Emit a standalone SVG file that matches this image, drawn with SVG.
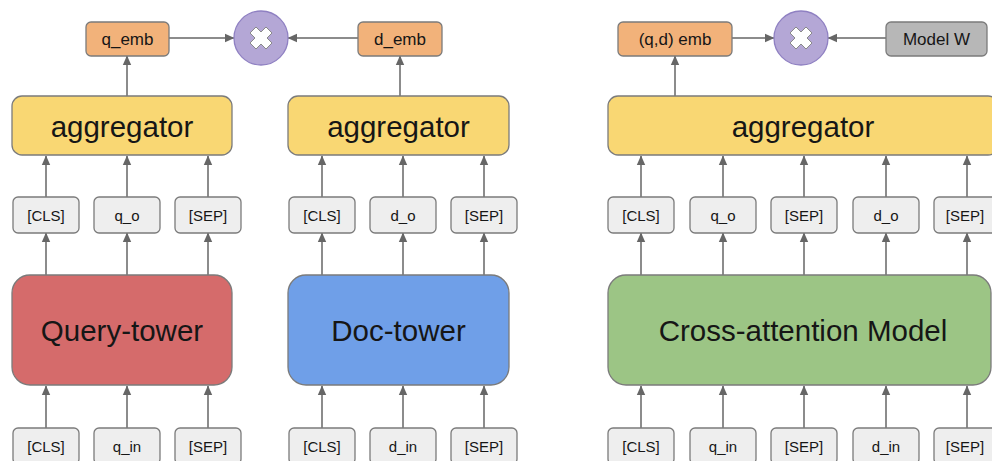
<svg xmlns="http://www.w3.org/2000/svg" width="992" height="461" viewBox="0 0 992 461">
  <defs>
    <marker id="arrow" markerUnits="userSpaceOnUse" markerWidth="10" markerHeight="10" viewBox="0 0 10 10" refX="9" refY="5" orient="auto">
      <path d="M0,0.8 L9.5,5 L0,9.2 Z" fill="#666666"/>
    </marker>
    <g id="times">
      <path d="M-5,-11 L0,-6 L5,-11 L11,-5 L6,0 L11,5 L5,11 L0,6 L-5,11 L-11,5 L-6,0 L-11,-5 Z" fill="#ffffff" stroke="#8a8a8a" stroke-width="1" stroke-linejoin="round"/>
    </g>
  </defs>
  <style>
    .box { stroke: #7b7b7b; stroke-width: 1.3; }
    .tok { fill: #eeeeee; }
    .emb { fill: #f2b27a; }
    .agg { fill: #f9d773; }
    .op { fill: #b4a7d6; stroke: #8f80c2; stroke-width: 1.3; }
    .wt { fill: #b7b7b7; }
    .q { fill: #d56b6b; }
    .d { fill: #6f9fe8; }
    .x { fill: #9cc585; }
    text { font-family: "Liberation Sans", Arial, sans-serif; fill: #161616; text-anchor: middle; dominant-baseline: central; }
    .t15 { font-size: 15px; }
    .t17 { font-size: 17px; }
    .big { font-size: 29.5px; }
    .link { stroke: #666666; stroke-width: 1.5; fill: none; marker-end: url(#arrow); }
  </style>

  <rect width="992" height="461" fill="#ffffff"/>

  <!-- connectors -->
  <g id="connectors">
    <!-- query side -->
    <line class="link" x1="169" y1="38" x2="234" y2="38"/>
    <line class="link" x1="127" y1="96" x2="127" y2="56"/>
    <line class="link" x1="46" y1="197" x2="46" y2="156"/>
    <line class="link" x1="127" y1="197" x2="127" y2="156"/>
    <line class="link" x1="208" y1="197" x2="208" y2="156"/>
    <line class="link" x1="46" y1="275" x2="46" y2="233"/>
    <line class="link" x1="127" y1="275" x2="127" y2="233"/>
    <line class="link" x1="208" y1="275" x2="208" y2="233"/>
    <line class="link" x1="46" y1="428" x2="46" y2="386"/>
    <line class="link" x1="127" y1="428" x2="127" y2="386"/>
    <line class="link" x1="208" y1="428" x2="208" y2="386"/>
    <!-- doc side -->
    <line class="link" x1="358" y1="38" x2="288" y2="38"/>
    <line class="link" x1="400" y1="96" x2="400" y2="56"/>
    <line class="link" x1="322" y1="197" x2="322" y2="156"/>
    <line class="link" x1="403" y1="197" x2="403" y2="156"/>
    <line class="link" x1="484" y1="197" x2="484" y2="156"/>
    <line class="link" x1="322" y1="275" x2="322" y2="233"/>
    <line class="link" x1="403" y1="275" x2="403" y2="233"/>
    <line class="link" x1="484" y1="275" x2="484" y2="233"/>
    <line class="link" x1="322" y1="428" x2="322" y2="386"/>
    <line class="link" x1="403" y1="428" x2="403" y2="386"/>
    <line class="link" x1="484" y1="428" x2="484" y2="386"/>
    <!-- cross-attention side -->
    <line class="link" x1="732" y1="38" x2="774" y2="38"/>
    <line class="link" x1="886" y1="38" x2="828" y2="38"/>
    <line class="link" x1="675" y1="96" x2="675" y2="56"/>
    <line class="link" x1="641" y1="197" x2="641" y2="156"/>
    <line class="link" x1="723" y1="197" x2="723" y2="156"/>
    <line class="link" x1="804" y1="197" x2="804" y2="156"/>
    <line class="link" x1="886" y1="197" x2="886" y2="156"/>
    <line class="link" x1="967" y1="197" x2="967" y2="156"/>
    <line class="link" x1="641" y1="275" x2="641" y2="233"/>
    <line class="link" x1="723" y1="275" x2="723" y2="233"/>
    <line class="link" x1="804" y1="275" x2="804" y2="233"/>
    <line class="link" x1="886" y1="275" x2="886" y2="233"/>
    <line class="link" x1="967" y1="275" x2="967" y2="233"/>
    <line class="link" x1="641" y1="428" x2="641" y2="386"/>
    <line class="link" x1="723" y1="428" x2="723" y2="386"/>
    <line class="link" x1="804" y1="428" x2="804" y2="386"/>
    <line class="link" x1="886" y1="428" x2="886" y2="386"/>
    <line class="link" x1="967" y1="428" x2="967" y2="386"/>
  </g>

  <!-- query tower column -->
  <g id="q_emb"><rect class="box emb" x="86" y="22" width="83" height="34" rx="5"/><text class="t17" x="127.5" y="39">q_emb</text></g>
  <g id="dot_left"><circle class="op" cx="261" cy="38" r="27"/><use href="#times" x="261" y="38"/></g>
  <g id="agg_q"><rect class="box agg" x="12" y="96" width="220" height="59" rx="10"/><text class="big" x="122" y="126">aggregator</text></g>
  <g id="q_cls_out"><rect class="box tok" x="13" y="197" width="66" height="36" rx="5"/><text class="t15" x="46" y="215">[CLS]</text></g>
  <g id="q_o"><rect class="box tok" x="94" y="197" width="66" height="36" rx="5"/><text class="t15" x="127" y="215">q_o</text></g>
  <g id="q_sep_out"><rect class="box tok" x="175" y="197" width="66" height="36" rx="5"/><text class="t15" x="208" y="215">[SEP]</text></g>
  <g id="query_tower"><rect class="box q" x="12" y="275" width="220" height="110" rx="18"/><text class="big" x="122" y="330">Query-tower</text></g>
  <g id="q_cls_in"><rect class="box tok" x="13" y="428" width="66" height="36" rx="5"/><text class="t15" x="46" y="446">[CLS]</text></g>
  <g id="q_in"><rect class="box tok" x="94" y="428" width="66" height="36" rx="5"/><text class="t15" x="127" y="446">q_in</text></g>
  <g id="q_sep_in"><rect class="box tok" x="175" y="428" width="66" height="36" rx="5"/><text class="t15" x="208" y="446">[SEP]</text></g>

  <!-- doc tower column -->
  <g id="d_emb"><rect class="box emb" x="358" y="22" width="84" height="34" rx="5"/><text class="t17" x="400" y="39">d_emb</text></g>
  <g id="agg_d"><rect class="box agg" x="288" y="96" width="221" height="59" rx="10"/><text class="big" x="398.5" y="126">aggregator</text></g>
  <g id="d_cls_out"><rect class="box tok" x="289" y="197" width="66" height="36" rx="5"/><text class="t15" x="322" y="215">[CLS]</text></g>
  <g id="d_o"><rect class="box tok" x="370" y="197" width="66" height="36" rx="5"/><text class="t15" x="403" y="215">d_o</text></g>
  <g id="d_sep_out"><rect class="box tok" x="451" y="197" width="66" height="36" rx="5"/><text class="t15" x="484" y="215">[SEP]</text></g>
  <g id="doc_tower"><rect class="box d" x="288" y="275" width="221" height="110" rx="18"/><text class="big" x="398.5" y="330">Doc-tower</text></g>
  <g id="d_cls_in"><rect class="box tok" x="289" y="428" width="66" height="36" rx="5"/><text class="t15" x="322" y="446">[CLS]</text></g>
  <g id="d_in"><rect class="box tok" x="370" y="428" width="66" height="36" rx="5"/><text class="t15" x="403" y="446">d_in</text></g>
  <g id="d_sep_in"><rect class="box tok" x="451" y="428" width="66" height="36" rx="5"/><text class="t15" x="484" y="446">[SEP]</text></g>

  <!-- cross-attention column -->
  <g id="qd_emb"><rect class="box emb" x="618" y="22" width="114" height="34" rx="5"/><text class="t17" x="675" y="39">(q,d) emb</text></g>
  <g id="dot_right"><circle class="op" cx="801" cy="38" r="27"/><use href="#times" x="801" y="38"/></g>
  <g id="model_w"><rect class="box wt" x="886" y="22" width="101" height="34" rx="5"/><text class="t17" x="936.5" y="39">Model W</text></g>
  <g id="agg_x"><rect class="box agg" x="608" y="96" width="390" height="59" rx="10"/><text class="big" x="803" y="126">aggregator</text></g>
  <g id="x_cls_out"><rect class="box tok" x="608" y="197" width="66" height="36" rx="5"/><text class="t15" x="641" y="215">[CLS]</text></g>
  <g id="x_q_o"><rect class="box tok" x="690" y="197" width="66" height="36" rx="5"/><text class="t15" x="723" y="215">q_o</text></g>
  <g id="x_sep1_out"><rect class="box tok" x="771" y="197" width="66" height="36" rx="5"/><text class="t15" x="804" y="215">[SEP]</text></g>
  <g id="x_d_o"><rect class="box tok" x="853" y="197" width="66" height="36" rx="5"/><text class="t15" x="886" y="215">d_o</text></g>
  <g id="x_sep2_out"><rect class="box tok" x="934" y="197" width="66" height="36" rx="5"/><text class="t15" x="965" y="215">[SEP]</text></g>
  <g id="cross_model"><rect class="box x" x="608" y="275" width="383" height="110" rx="18"/><text class="big" x="803" y="330">Cross-attention Model</text></g>
  <g id="x_cls_in"><rect class="box tok" x="608" y="428" width="66" height="36" rx="5"/><text class="t15" x="641" y="446">[CLS]</text></g>
  <g id="x_q_in"><rect class="box tok" x="690" y="428" width="66" height="36" rx="5"/><text class="t15" x="723" y="446">q_in</text></g>
  <g id="x_sep1_in"><rect class="box tok" x="771" y="428" width="66" height="36" rx="5"/><text class="t15" x="804" y="446">[SEP]</text></g>
  <g id="x_d_in"><rect class="box tok" x="853" y="428" width="66" height="36" rx="5"/><text class="t15" x="886" y="446">d_in</text></g>
  <g id="x_sep2_in"><rect class="box tok" x="934" y="428" width="66" height="36" rx="5"/><text class="t15" x="965" y="446">[SEP]</text></g>
</svg>
